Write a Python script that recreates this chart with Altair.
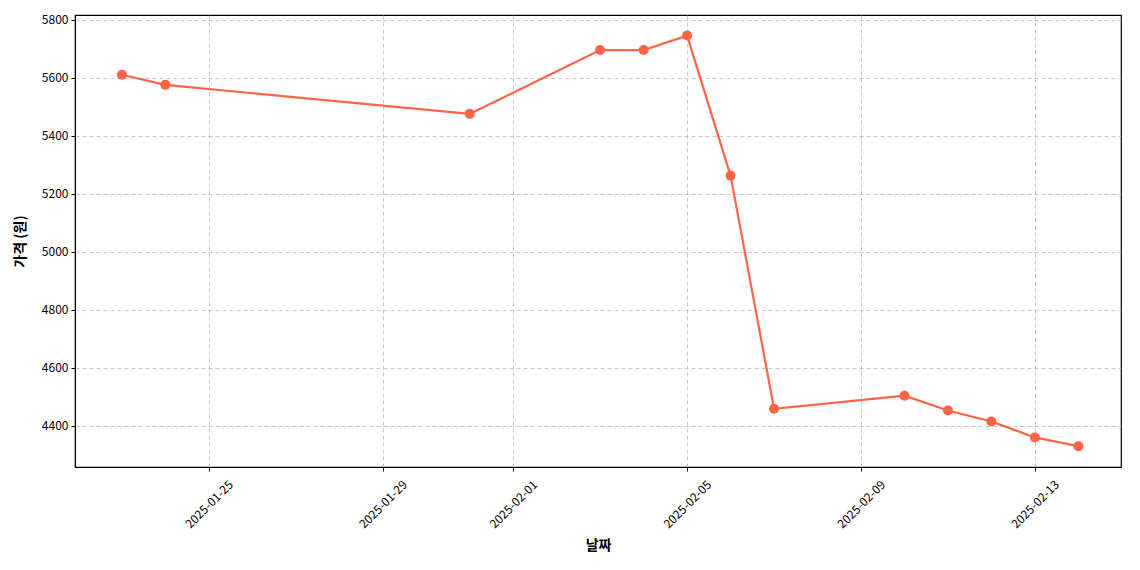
import altair as alt
import pandas as pd

dates = ["2025-01-23", "2025-01-24", "2025-01-31", "2025-02-03", "2025-02-04",
         "2025-02-05", "2025-02-06", "2025-02-07", "2025-02-10", "2025-02-11",
         "2025-02-12", "2025-02-13", "2025-02-14"]
prices = [5610, 5575, 5475, 5695, 5695, 5745, 5262, 4458, 4503, 4452, 4414, 4359, 4329]
tick_dates = ["2025-01-25", "2025-01-29", "2025-02-01", "2025-02-05", "2025-02-09", "2025-02-13"]
y_ticks = [4400, 4600, 4800, 5000, 5200, 5400, 5600, 5800]

df = pd.DataFrame({"date": dates, "price": prices})

def ms(s):
    return int(pd.Timestamp(s, tz="UTC").value // 10**6)

x_domain = [ms("2025-01-21 22:05"), ms("2025-02-14 23:32")]
tick_vals = [ms(d) for d in tick_dates]

font = "Noto Sans CJK KR"
color = "#FF6347"

x = alt.X("date:T", title="날짜",
          scale=alt.Scale(type="utc", domain=x_domain, nice=False),
          axis=alt.Axis(values=tick_vals,
                        labelExpr="utcFormat(datum.value, '%Y-%m-%d')",
                        labelAngle=-45, labelAlign="center", labelBaseline="middle",
                        labelFontSize=12, labelFont=font, labelColor="#000",
                        titleFont=font, titleFontSize=14, titleFontWeight="bold",
                        titleColor="#000", titlePadding=8,
                        tickColor="#000", tickSize=4, domainColor="#000",
                        gridColor="#b0b0b0", gridDash=[4, 3], gridOpacity=0.7,
                        labelPadding=33))
y = alt.Y("price:Q", title="가격 (원)",
          scale=alt.Scale(domain=[4257, 5816], nice=False, zero=False),
          axis=alt.Axis(values=y_ticks, format="d",
                        labelFontSize=12, labelFont=font, labelColor="#000",
                        titleFont=font, titleFontSize=14, titleFontWeight="bold",
                        titleColor="#000", titlePadding=14,
                        tickColor="#000", tickSize=4, domainColor="#000",
                        gridColor="#b0b0b0", gridDash=[4, 3], gridOpacity=0.7,
                        labelPadding=3))

base = alt.Chart(df).encode(x=x, y=y)
line = base.mark_line(color=color, strokeWidth=2.2)
pts = base.mark_circle(color=color, size=100, opacity=1)

chart = (line + pts).properties(
    width=1046, height=452,
    autosize=alt.AutoSizeParams(type="none"),
    padding={"left": 67, "top": 7, "right": 10, "bottom": 95},
    background="white",
).configure_view(stroke="#000", strokeWidth=1.2)

chart.save("out.html", embed_options={"renderer": "svg", "actions": False})
